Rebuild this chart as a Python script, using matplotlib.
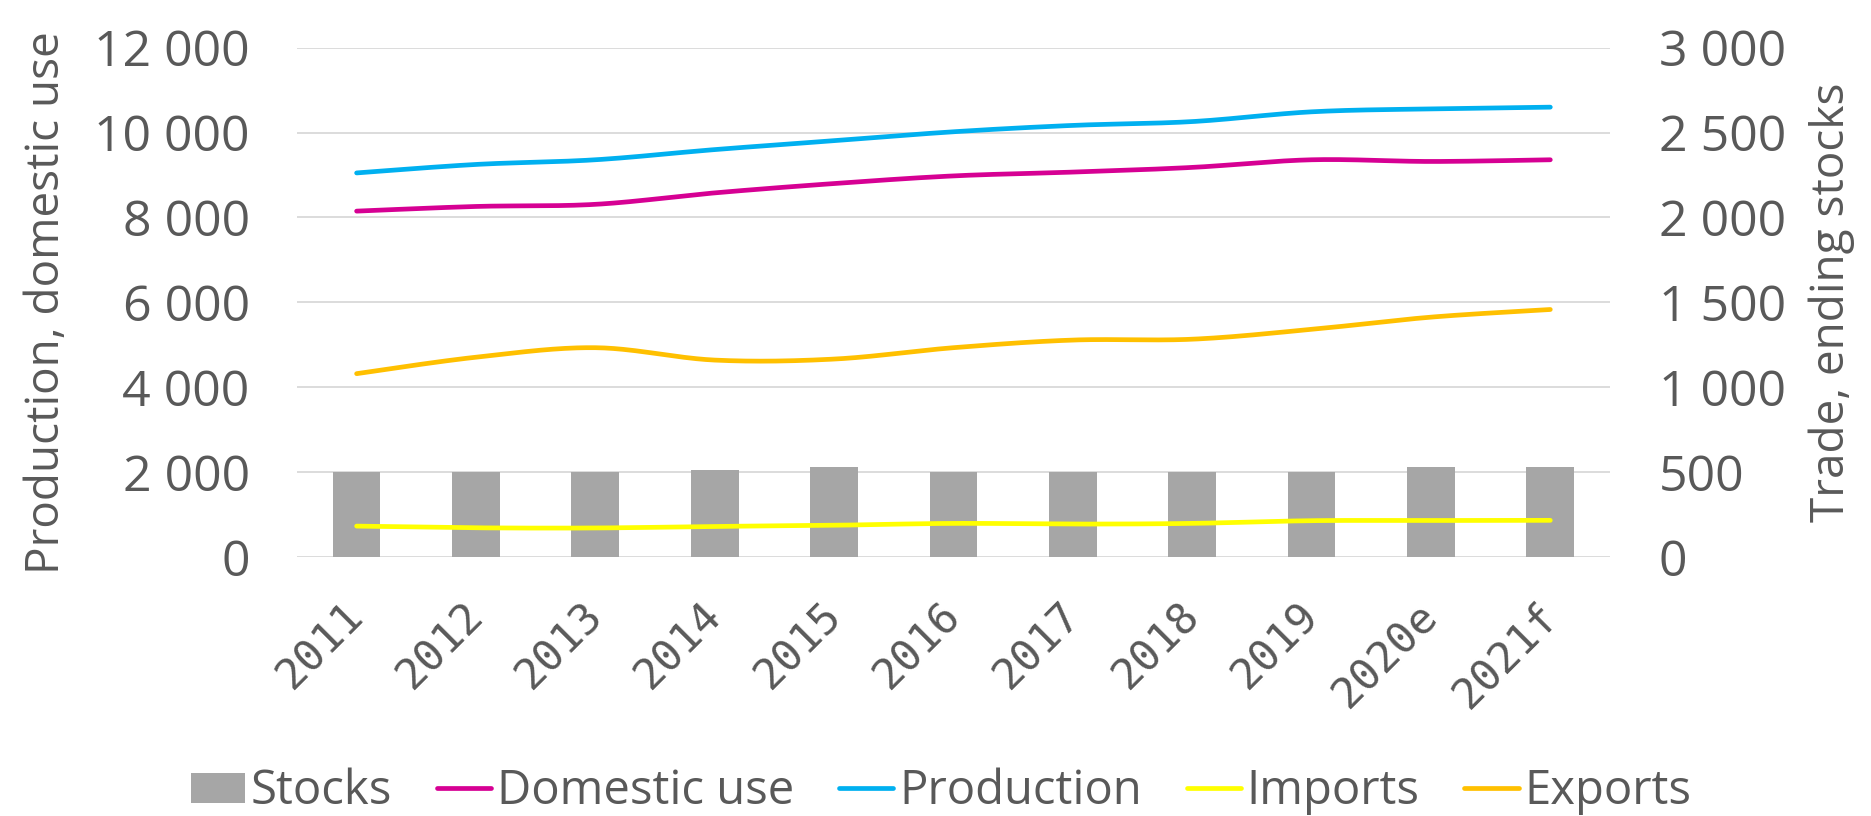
import numpy as np
import matplotlib
matplotlib.use("Agg")
import matplotlib.pyplot as plt
from matplotlib.ticker import FuncFormatter, MultipleLocator
from matplotlib.patches import Patch
from matplotlib.lines import Line2D
from matplotlib.transforms import ScaledTranslation

# ---- data -------------------------------------------------------------
years = ["2011", "2012", "2013", "2014", "2015", "2016", "2017", "2018",
         "2019", "2020e", "2021f"]
production = [9050, 9250, 9360, 9600, 9810, 10020, 10170, 10260, 10490, 10560, 10600]
domestic_use = [8150, 8260, 8310, 8580, 8800, 8980, 9070, 9180, 9360, 9320, 9360]
exports = [1080, 1177, 1233, 1160, 1166, 1233, 1278, 1283, 1341, 1413, 1458]
imports = [182, 172, 171, 180, 187, 198, 194, 198, 214, 215, 216]
stocks = [500, 500, 500, 513, 529, 502, 502, 502, 502, 533, 533]

# ---- style ------------------------------------------------------------
TEXT = "#595959"
GRID = "#D9D9D9"
C_STOCKS = "#A6A6A6"
C_DOM = "#D60093"
C_PROD = "#00B0F0"
C_IMP = "#FFFF00"
C_EXP = "#FFC000"
FS_TICK = 36
FS_LABEL = 33
FS_LEG = 34
LW = 3.4

plt.rcParams["font.family"] = ["Open Sans", "DejaVu Sans"]
plt.rcParams["text.color"] = TEXT


def smooth(y, n=40):
    """Bezier smoothing through every point (cardinal spline, tension 1/6)."""
    y = np.asarray(y, float)
    x = np.arange(len(y), dtype=float)
    P = np.column_stack([x, y])
    Pe = np.vstack([P[0], P, P[-1]])
    t = np.linspace(0, 1, n)[:, None]
    out = []
    for i in range(len(P) - 1):
        p0, p1 = P[i], P[i + 1]
        c1 = p0 + (Pe[i + 2] - Pe[i]) / 6.0
        c2 = p1 - (Pe[i + 3] - Pe[i + 1]) / 6.0
        seg = ((1 - t) ** 3) * p0 + 3 * ((1 - t) ** 2) * t * c1 \
            + 3 * (1 - t) * t ** 2 * c2 + t ** 3 * p1
        out.append(seg if i == 0 else seg[1:])
    s = np.vstack(out)
    return s[:, 0], s[:, 1]


def thousands(v, _):
    return f"{v:,.0f}".replace(",", " ")


fig = plt.figure(figsize=(18.71, 8.16), dpi=100)
ax = fig.add_axes([0.1587, 0.3174, 0.7018, 0.6241])
ax2 = ax.twinx()

x = np.arange(len(years))

# left axis: production and domestic use
for vals, col in [(domestic_use, C_DOM), (production, C_PROD)]:
    sx, sy = smooth(vals)
    ax.plot(sx, sy, color=col, lw=LW, solid_capstyle="round", zorder=3)

# right axis: stocks, imports, exports
ax2.bar(x, stocks, width=0.4, color=C_STOCKS, zorder=2)
for vals, col in [(imports, C_IMP), (exports, C_EXP)]:
    sx, sy = smooth(vals)
    ax2.plot(sx, sy, color=col, lw=LW, solid_capstyle="round", zorder=3)

ax.set_xlim(-0.5, len(years) - 0.5)
ax.set_ylim(0, 12000)
ax2.set_ylim(0, 3000)
ax.yaxis.set_major_locator(MultipleLocator(2000))
ax2.yaxis.set_major_locator(MultipleLocator(500))
ax.yaxis.set_major_formatter(FuncFormatter(thousands))
ax2.yaxis.set_major_formatter(FuncFormatter(thousands))

ax.grid(axis="y", color=GRID, lw=1.3, zorder=0)
ax.set_axisbelow(True)
for a in (ax, ax2):
    for s in a.spines.values():
        s.set_visible(False)
    a.tick_params(length=0, labelsize=FS_TICK, labelcolor=TEXT)
ax.tick_params(axis="y", pad=34)
ax2.tick_params(axis="y", pad=35)

ax.set_xticks(x)
ax.set_xticklabels(years, rotation=45, ha="right", va="top",
                   rotation_mode="anchor", fontsize=31,
                   family=["DejaVu Sans Mono", "DejaVu Sans"])
ax.tick_params(axis="x", pad=27)
shift = ScaledTranslation(-0.14, 0.0, fig.dpi_scale_trans)
for lab in ax.get_xticklabels():
    lab.set_transform(lab.get_transform() + shift)

ax.set_ylabel("Production, domestic use", fontsize=FS_LABEL, color=TEXT,
              va="center", ha="center")
ax.yaxis.set_label_coords(-0.190, 0.5)
ax2.set_ylabel("Trade, ending stocks", fontsize=FS_LABEL, color=TEXT,
               va="center", ha="center")
ax2.yaxis.set_label_coords(1.169, 0.5)

handles = [
    Patch(facecolor=C_STOCKS, edgecolor="none"),
    Line2D([], [], color=C_DOM, lw=LW, solid_capstyle="round"),
    Line2D([], [], color=C_PROD, lw=LW, solid_capstyle="round"),
    Line2D([], [], color=C_IMP, lw=LW, solid_capstyle="round"),
    Line2D([], [], color=C_EXP, lw=LW, solid_capstyle="round"),
]
labels = ["Stocks", "Domestic use", "Production", "Imports", "Exports"]
fig.legend(handles, labels, loc="center", bbox_to_anchor=(0.503, 0.03),
           ncol=5, frameon=False, fontsize=FS_LEG, handlelength=1.15,
           handleheight=0.6, handletextpad=0.12, columnspacing=0.95,
           labelcolor=TEXT)

fig.savefig("out.png", dpi=100)
